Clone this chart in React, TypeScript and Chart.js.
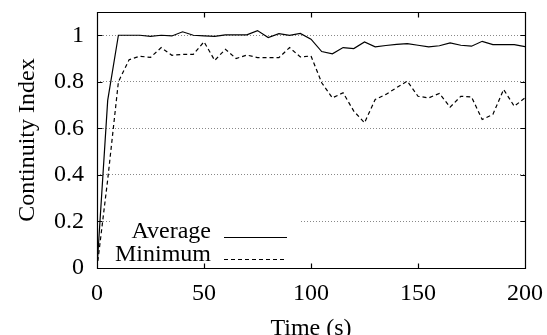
import React, { useEffect, useRef } from "react";
import { Chart, registerables } from "chart.js";

Chart.register(...registerables);

const times = [0, 5, 10, 15, 20, 25, 30, 35, 40, 45, 50, 55, 60, 65, 70, 75, 80, 85, 90, 95, 100, 105, 110, 115, 120, 125, 130, 135, 140, 145, 150, 155, 160, 165, 170, 175, 180, 185, 190, 195, 200];

const averageValues = [0, 0.72, 1.0, 1.0, 1.0, 0.995, 1.0, 0.997, 1.015, 1.0, 0.997, 0.995, 1.002, 1.002, 1.002, 1.02, 0.99, 1.007, 1.0, 1.008, 0.983, 0.93, 0.92, 0.947, 0.943, 0.971, 0.95, 0.956, 0.961, 0.964, 0.957, 0.95, 0.955, 0.967, 0.957, 0.953, 0.974, 0.96, 0.96, 0.96, 0.951];

const minimumValues = [0, 0.38, 0.8, 0.895, 0.91, 0.905, 0.947, 0.914, 0.918, 0.918, 0.972, 0.892, 0.94, 0.9, 0.915, 0.904, 0.904, 0.904, 0.947, 0.907, 0.911, 0.796, 0.731, 0.753, 0.674, 0.624, 0.724, 0.746, 0.775, 0.803, 0.738, 0.731, 0.75, 0.691, 0.738, 0.735, 0.638, 0.66, 0.767, 0.695, 0.731];

const xTicks = [0, 50, 100, 150, 200];
const yTicks = [0, 0.2, 0.4, 0.6, 0.8, 1];
const seriesLabels = ["Average", "Minimum"];
const xTitle = "Time (s)";
const yTitle = "Continuity Index";

const FONT = "'Liberation Serif', 'Times New Roman', serif";
const FS = 24;
const DASH = [4, 3];

const framePlugin = {
  id: "gnuplotFrame",
  beforeDatasetsDraw(chart: any) {
    const { ctx, chartArea: a } = chart;
    ctx.save();
    ctx.fillStyle = "#ffffff";
    ctx.fillRect(a.left + 13, a.bottom - 56, 190, 55);
    ctx.restore();
  },
  afterDraw(chart: any) {
    const { ctx, chartArea: a, scales } = chart;
    ctx.save();
    ctx.strokeStyle = "#000000";
    ctx.lineWidth = 1.2;
    ctx.setLineDash([]);
    const L = Math.round(a.left) + 0.5;
    const R = Math.round(a.right) + 0.5;
    const T = Math.round(a.top) + 0.5;
    const B = Math.round(a.bottom) + 0.5;
    ctx.beginPath();
    ctx.moveTo(L, T);
    ctx.lineTo(R, T);
    ctx.lineTo(R, B);
    ctx.lineTo(L, B);
    ctx.closePath();
    const tl = 5;
    xTicks.forEach((v) => {
      const x = Math.round(scales.x.getPixelForValue(v)) + 0.5;
      ctx.moveTo(x, B);
      ctx.lineTo(x, B - tl);
      ctx.moveTo(x, T);
      ctx.lineTo(x, T + tl);
    });
    yTicks.forEach((v) => {
      const y = Math.round(scales.y.getPixelForValue(v)) + 0.5;
      ctx.moveTo(L, y);
      ctx.lineTo(L + tl, y);
      ctx.moveTo(R, y);
      ctx.lineTo(R - tl, y);
    });
    ctx.stroke();

    // key
    ctx.font = `${FS}px ${FONT}`;
    ctx.fillStyle = "#000";
    ctx.textAlign = "right";
    ctx.textBaseline = "alphabetic";
    const rows = [
      { label: seriesLabels[0], base: a.bottom - 30, line: a.bottom - 31, dash: [] as number[] },
      { label: seriesLabels[1], base: a.bottom - 7, line: a.bottom - 9, dash: DASH },
    ];
    rows.forEach((r) => {
      ctx.fillText(r.label, a.left + 114, r.base);
      ctx.beginPath();
      ctx.setLineDash(r.dash);
      ctx.lineWidth = 1.2;
      const y = Math.round(r.line) + 0.5;
      ctx.moveTo(a.left + 127, y);
      ctx.lineTo(a.left + 190, y);
      ctx.stroke();
    });
    ctx.restore();
  },
};

export default function App() {
  const ref = useRef<HTMLCanvasElement | null>(null);
  useEffect(() => {
    if (!ref.current) return;
    const chart = new Chart(ref.current, {
      type: "line",
      data: {
        datasets: [
          {
            label: seriesLabels[0],
            data: times.map((t, i) => ({ x: t, y: averageValues[i] })),
            borderColor: "#000",
            borderWidth: 1.2,
            pointRadius: 0,
            tension: 0,
          },
          {
            label: seriesLabels[1],
            data: times.map((t, i) => ({ x: t, y: minimumValues[i] })),
            borderColor: "#000",
            borderWidth: 1.2,
            borderDash: DASH,
            pointRadius: 0,
            tension: 0,
          },
        ],
      },
      options: {
        animation: false,
        responsive: false,
        devicePixelRatio: 1,
        layout: { padding: { top: 12, right: 22, left: 0, bottom: 0 } },
        plugins: { legend: { display: false }, tooltip: { enabled: false } },
        scales: {
          x: {
            type: "linear",
            min: 0,
            max: 200,
            afterFit: (s: any) => {
              s.height = 67;
              s.paddingLeft = 0;
              s.paddingRight = 0;
            },
            afterBuildTicks: (s: any) => {
              s.ticks = xTicks.map((v) => ({ value: v }));
            },
            ticks: {
              font: { family: FONT, size: FS },
              color: "#000",
              padding: 11,
              maxRotation: 0,
              autoSkip: false,
            },
            grid: { display: false, drawTicks: false },
            border: { display: false },
            title: {
              display: true,
              text: xTitle,
              font: { family: FONT, size: FS },
              color: "#000",
              padding: { top: 0, bottom: -8 },
            },
          },
          y: {
            type: "linear",
            min: 0,
            max: 1.1,
            afterFit: (s: any) => {
              s.width = 97;
              s.paddingTop = 0;
              s.paddingBottom = 0;
            },
            afterBuildTicks: (s: any) => {
              s.ticks = yTicks.map((v) => ({ value: v }));
            },
            ticks: {
              font: { family: FONT, size: FS },
              color: "#000",
              padding: 13,
              autoSkip: false,
              callback: (v: any) => String(Number(Number(v).toFixed(2))),
            },
            grid: { color: "#888", drawTicks: false, lineWidth: 1 },
            border: { display: false, dash: [1, 2] },
            title: {
              display: true,
              text: yTitle,
              font: { family: FONT, size: FS },
              color: "#000",
              padding: { top: 13, bottom: 0 },
            },
          },
        },
      },
      plugins: [framePlugin],
    });
    return () => chart.destroy();
  }, []);
  return (
    <div style={{ position: "fixed", left: 0, top: 0, width: 547, height: 335, background: "#fff" }}>
      <canvas ref={ref} width={547} height={335} style={{ width: 547, height: 335 }} />
    </div>
  );
}
